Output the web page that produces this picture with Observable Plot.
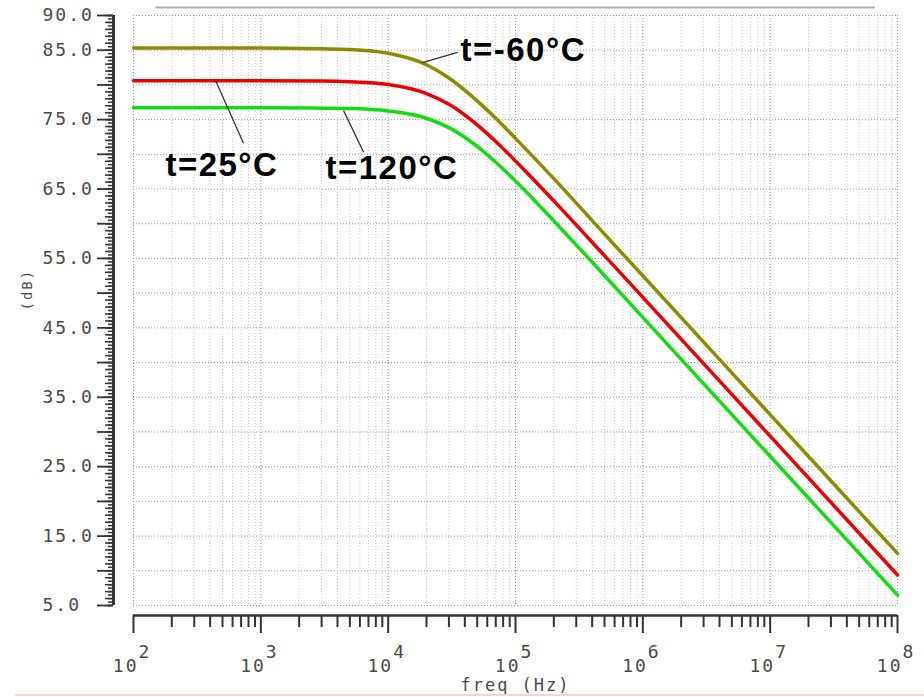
<!DOCTYPE html>
<html><head><meta charset="utf-8">
<script src="https://cdn.jsdelivr.net/npm/d3@7"></script>
<script src="https://cdn.jsdelivr.net/npm/@observablehq/plot@0.6"></script>
<style>
body{margin:0;background:#fff;}
#chart{position:relative;width:924px;height:697px;overflow:hidden;}
#chart svg{font-family:"DejaVu Sans Mono",monospace;letter-spacing:2px;}
#pink{position:absolute;left:15px;right:0;top:694px;height:2px;background:#f4d4d4;}
</style></head><body><div id="chart"><div id="pink"></div></div>
<script>
// Frequencies (Hz)
const freq = [100, 1000, 3000, 5000, 1e4, 2e4, 3e4, 5e4, 7e4, 1e5, 2e5, 5e5, 1e6, 1e7, 1e8];
// Gain (dB) per temperature
const gainM60 = [85.3, 85.3, 85.2, 85.1, 84.55, 82.9, 81.0, 77.7, 75.2, 72.3, 66.5, 58.5, 52.5, 32.5, 12.5];
const gain25  = [80.6, 80.6, 80.55, 80.45, 80.05, 78.75, 77.2, 74.25, 71.85, 69.05, 63.3, 55.4, 49.4, 29.4, 9.4];
const gain120 = [76.7, 76.7, 76.65, 76.6, 76.25, 75.2, 73.85, 71.15, 68.85, 66.15, 60.4, 52.55, 46.5, 26.5, 6.5];
const seriesNames = ["t=-60°C", "t=25°C", "t=120°C"];
const seriesColors = ["#8c8c00", "#ee0000", "#11dd11"];

// Axis ticks
const yTickLabels = [90, 85, 75, 65, 55, 45, 35, 25, 15, 5];
const decades = [1e2, 1e3, 1e4, 1e5, 1e6, 1e7, 1e8];
const decadeExp = ["2", "3", "4", "5", "6", "7", "8"];

// Annotations (label anchor and leader line, in data units)
const annText = ["t=-60°C", "t=25°C", "t=120°C"];
const annFreq = [3.7e4, 178, 3220];
const annDb   = [85.0, 68.4, 68.0];
const leadF1 = [1.86e4, 441, 4467];
const leadD1 = [83.2, 80.65, 76.3];
const leadF2 = [3.5e4, 731, 6412];
const leadD2 = [84.7, 71.6, 70.3];

const gains = [gainM60, gain25, gain120];
const rows = [];
gains.forEach((g, s) => freq.forEach((f, i) => rows.push({f, g: g[i], s: seriesNames[s]})));
const anns = annText.map((t, i) => ({t, f: annFreq[i], d: annDb[i], f1: leadF1[i], d1: leadD1[i], f2: leadF2[i], d2: leadD2[i]}));

const minorX = [];
decades.slice(0, -1).forEach(d => { for (let k = 2; k <= 9; k++) minorX.push(d * k); });
const gridYTicks = d3.range(5, 90.001, 5);
const yHalf = d3.range(5, 90.001, 0.5);
const yOne = d3.range(5, 90.001, 1);
const expOf = d => decadeExp[decades.findIndex(v => Math.abs(v - d) / v < 1e-6)];

const plot = Plot.plot({
  width: 924, height: 697,
  marginLeft: 133, marginRight: 27, marginTop: 15, marginBottom: 92,
  x: {type: "log", domain: [1e2, 1e8], axis: null},
  y: {domain: [5, 90], axis: null},
  color: {domain: seriesNames, range: seriesColors},
  style: {background: "#fff", overflow: "visible"},
  marks: [
    Plot.gridX({ticks: minorX, stroke: "#c8c8c8", strokeOpacity: 1, strokeDasharray: "1,2"}),
    Plot.gridX({ticks: decades, stroke: "#999", strokeOpacity: 1, strokeDasharray: "1,2"}),
    Plot.gridY({ticks: gridYTicks, stroke: "#999", strokeOpacity: 1, strokeDasharray: "1,2"}),
    // top decorative rule
    Plot.ruleY([90], {x1: 150, x2: 6.7e7, dy: -8, stroke: "#b0b0b0", strokeWidth: 2}),
    // y axis (detached)
    Plot.ruleX([1e2], {y1: 5, y2: 90, dx: -20, stroke: "#333", strokeWidth: 3}),
    Plot.axisY({ticks: yHalf, tickSize: 5, tickFormat: () => "", dx: -20, stroke: "#333", strokeWidth: 1.5}),
    Plot.axisY({ticks: yOne, tickSize: 8, tickFormat: () => "", dx: -20, stroke: "#333", strokeWidth: 1.5}),
    Plot.axisY({ticks: gridYTicks, tickSize: 16, tickFormat: () => "", dx: -20, stroke: "#333", strokeWidth: 1.8}),
    Plot.axisY({ticks: yTickLabels, tickSize: 0, tickPadding: 0, dx: -91, textAnchor: "start",
      tickFormat: d => d.toFixed(1), fontSize: 18, fill: "#4a4a4a"}),
    // x axis (detached)
    Plot.ruleY([5], {x1: 1e2, x2: 1e8, dy: 10, stroke: "#333", strokeWidth: 2.5}),
    Plot.axisX({ticks: minorX, tickSize: 12, tickFormat: () => "", dy: 10, stroke: "#333", strokeWidth: 2}),
    Plot.axisX({ticks: decades, tickSize: 18, tickFormat: () => "", dy: 10, stroke: "#333", strokeWidth: 2}),
    Plot.axisX({ticks: decades, tickSize: 0, tickPadding: 54, tickFormat: () => "10", textAnchor: "end", dx: 5,
      fontSize: 18, fill: "#4a4a4a"}),
    Plot.axisX({ticks: decades, tickSize: 0, tickPadding: 40, tickFormat: expOf, textAnchor: "start", dx: 5,
      fontSize: 18, fill: "#4a4a4a"}),
    Plot.text(["freq (Hz)"], {frameAnchor: "bottom", dy: 85, fontSize: 17, fill: "#4a4a4a"}),
    Plot.text(["(dB)"], {frameAnchor: "left", dx: -106, rotate: -90, fontSize: 14, fill: "#4a4a4a"}),
    // curves
    Plot.line(rows, {x: "f", y: "g", z: "s", stroke: "s", strokeWidth: 3.5, curve: "monotone-x"}),
    // annotations
    Plot.link(anns, {x1: "f1", y1: "d1", x2: "f2", y2: "d2", stroke: "#333", strokeWidth: 1.3}),
    Plot.text(anns, {x: "f", y: "d", text: "t", textAnchor: "start", fontSize: 33, fontWeight: "bold",
      fontFamily: "Liberation Sans, Arial, sans-serif", fill: "#000"})
  ]
});
d3.select(plot).selectAll("g[font-weight='bold'] text").style("letter-spacing", "1.5px");
document.getElementById("chart").prepend(plot);
</script>
</body></html>
